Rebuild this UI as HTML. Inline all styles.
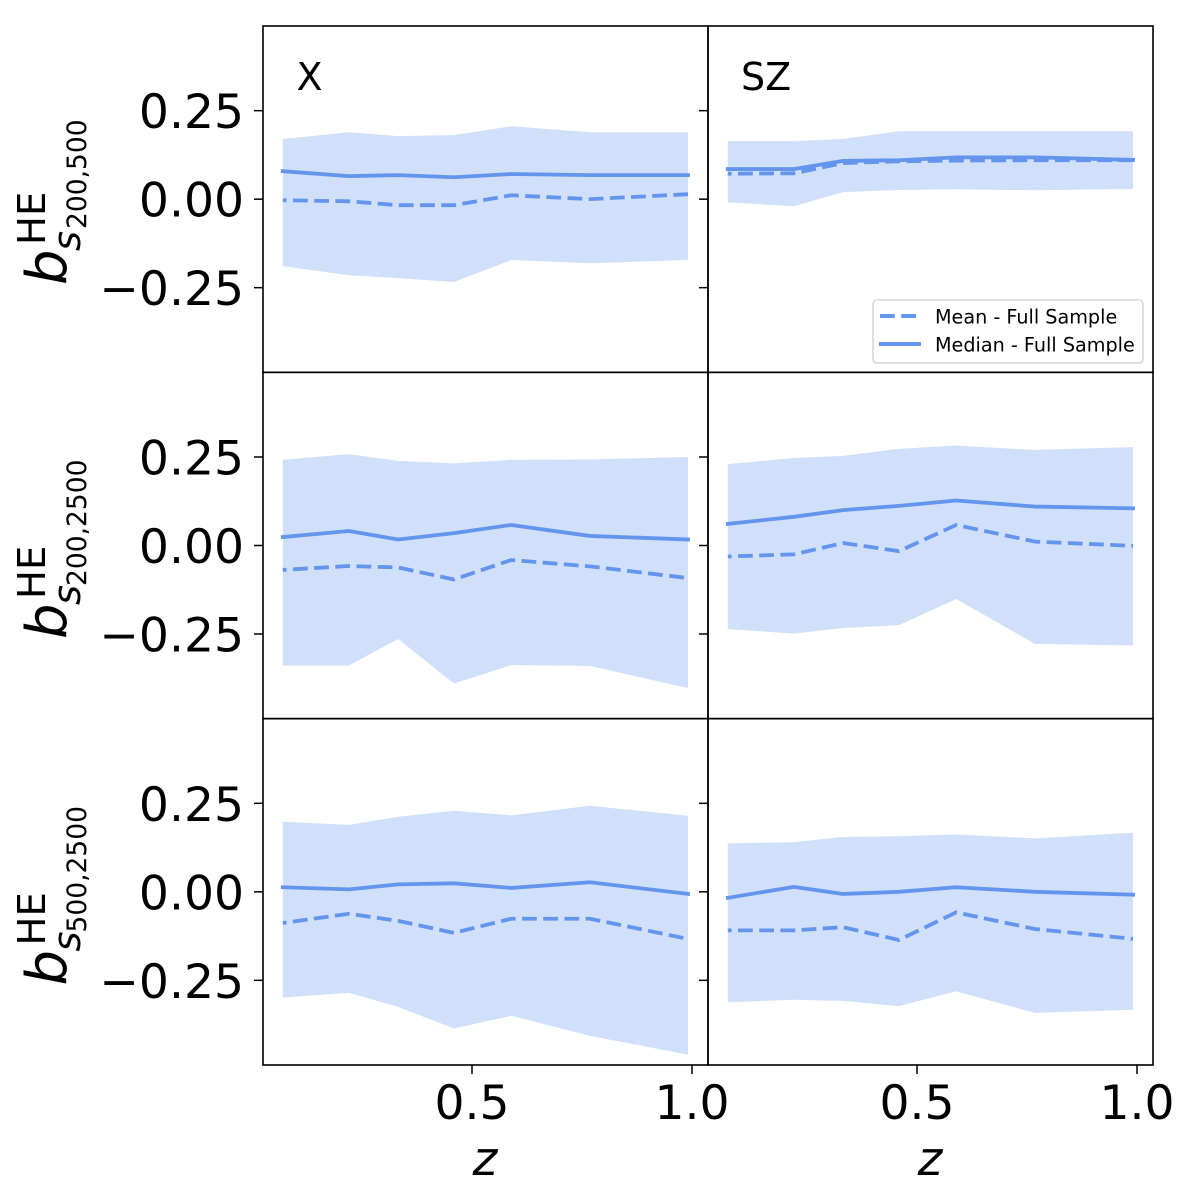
<!DOCTYPE html>
<html lang="en">
<head>
<meta charset="utf-8">
<title>Hydrostatic bias vs redshift</title>
<style>
html,body{margin:0;padding:0;background:#fff;}
svg{display:block;}
text{font-family:"DejaVu Sans",sans-serif;fill:#000;}
.it{font-style:italic;}
</style>
</head>
<body>
<svg id="chart" xmlns="http://www.w3.org/2000/svg" width="1200" height="1195" viewBox="0 0 1200 1195">
  <rect x="0" y="0" width="1200" height="1195" fill="#fff"/>
  <g id="panels"></g>

  <g>
    <text class="it" font-size="56" transform="translate(66,285) rotate(-90)">b</text>
    <text font-size="38.5" transform="translate(45,245) rotate(-90)">HE</text>
    <text class="it" font-size="38.5" transform="translate(80,251) rotate(-90)">s</text>
    <text font-size="26.5" transform="translate(86,229) rotate(-90)">200,500</text>
  </g>
  <g>
    <text class="it" font-size="56" transform="translate(66,639) rotate(-90)">b</text>
    <text font-size="38.5" transform="translate(45,599) rotate(-90)">HE</text>
    <text class="it" font-size="38.5" transform="translate(80,605) rotate(-90)">s</text>
    <text font-size="26.5" transform="translate(86,586) rotate(-90)">200,2500</text>
  </g>
  <g>
    <text class="it" font-size="56" transform="translate(66,985.5) rotate(-90)">b</text>
    <text font-size="38.5" transform="translate(45,945.5) rotate(-90)">HE</text>
    <text class="it" font-size="38.5" transform="translate(80,951.5) rotate(-90)">s</text>
    <text font-size="26.5" transform="translate(86,932.5) rotate(-90)">500,2500</text>
  </g>

  <text class="it" font-size="47" x="485" y="1175" text-anchor="middle">z</text>
  <text class="it" font-size="47" x="930" y="1175" text-anchor="middle">z</text>
  <text font-size="38" x="296.5" y="90">X</text>
  <text font-size="38" x="741" y="90">SZ</text>

  <g>
    <rect x="873" y="300" width="270" height="63" rx="4" ry="4" fill="#fff" fill-opacity="0.9" stroke="#d6d6d6" stroke-width="1.6"/>
    <line x1="880" y1="316" x2="921" y2="316" stroke="#6495ED" stroke-width="4" stroke-dasharray="14.8 6.4"/>
    <line x1="879" y1="344" x2="921" y2="344" stroke="#6495ED" stroke-width="4"/>
    <text font-size="19.2" x="935" y="323.5">Mean - Full Sample</text>
    <text font-size="19.2" x="935" y="351.5">Median - Full Sample</text>
  </g>
</svg>
<script>
const zBins = [0.07, 0.22, 0.332, 0.459, 0.589, 0.768, 0.991];
const yTickValues = [0.25, 0, -0.25];
const yTickLabels = ['0.25', '0.00', '\u22120.25'];
const xTickValues = [0.5, 1.0];
const xTickLabels = ['0.5', '1.0'];

const xS200500Upper = [0.170, 0.189, 0.178, 0.181, 0.206, 0.189, 0.189];
const xS200500Lower = [-0.189, -0.215, -0.223, -0.234, -0.172, -0.181, -0.172];
const xS200500Median = [0.079, 0.065, 0.068, 0.062, 0.071, 0.068, 0.068];
const xS200500Mean = [-0.003, -0.006, -0.017, -0.017, 0.011, 0.000, 0.014];

const szS200500Upper = [0.164, 0.164, 0.170, 0.192, 0.192, 0.192, 0.192];
const szS200500Lower = [-0.009, -0.020, 0.020, 0.026, 0.028, 0.025, 0.029];
const szS200500Median = [0.085, 0.085, 0.108, 0.110, 0.118, 0.118, 0.111];
const szS200500Mean = [0.072, 0.073, 0.102, 0.107, 0.109, 0.110, 0.110];

const xS2002500Upper = [0.242, 0.258, 0.239, 0.232, 0.242, 0.243, 0.250];
const xS2002500Lower = [-0.339, -0.339, -0.264, -0.390, -0.338, -0.340, -0.403];
const xS2002500Median = [0.024, 0.041, 0.017, 0.035, 0.058, 0.027, 0.017];
const xS2002500Mean = [-0.069, -0.058, -0.062, -0.096, -0.041, -0.059, -0.092];

const szS2002500Upper = [0.230, 0.247, 0.253, 0.273, 0.282, 0.270, 0.278];
const szS2002500Lower = [-0.236, -0.249, -0.233, -0.225, -0.151, -0.278, -0.282];
const szS2002500Median = [0.061, 0.081, 0.100, 0.112, 0.127, 0.110, 0.105];
const szS2002500Mean = [-0.031, -0.025, 0.007, -0.016, 0.058, 0.011, -0.001];

const xS5002500Upper = [0.198, 0.189, 0.212, 0.229, 0.216, 0.243, 0.215];
const xS5002500Lower = [-0.299, -0.285, -0.325, -0.386, -0.350, -0.407, -0.460];
const xS5002500Median = [0.013, 0.007, 0.021, 0.024, 0.011, 0.027, -0.006];
const xS5002500Mean = [-0.088, -0.062, -0.082, -0.116, -0.076, -0.076, -0.133];

const szS5002500Upper = [0.137, 0.140, 0.155, 0.157, 0.162, 0.151, 0.167];
const szS5002500Lower = [-0.312, -0.305, -0.308, -0.323, -0.281, -0.342, -0.333];
const szS5002500Median = [-0.017, 0.014, -0.006, 0.000, 0.013, 0.000, -0.008];
const szS5002500Mean = [-0.109, -0.109, -0.100, -0.136, -0.058, -0.105, -0.133];

const SVG_NS = 'http://www.w3.org/2000/svg';
const host = document.getElementById('panels');
const COLOR = '#6495ED';

const PANEL_W = 445;
const PANEL_H = 346.33;
const LEFT = 263;
const TOP = 26;
const PX_PER_Z = 440;
const PX_PER_B = 354;

function xAxis(z, col) { return LEFT + col * PANEL_W - 11 + PX_PER_Z * z; }
function yAxis(v, row) { return TOP + row * PANEL_H + PANEL_H / 2 - PX_PER_B * v; }
function pts(arr, col, row) {
  return arr.map(function (v, i) { return xAxis(zBins[i], col).toFixed(2) + ',' + yAxis(v, row).toFixed(2); });
}
function mk(tag, parent) {
  const el = document.createElementNS(SVG_NS, tag);
  parent.appendChild(el);
  return el;
}

const panelDefs = [
  { col: 0, row: 0, key: 'x-s200-500', up: xS200500Upper, lo: xS200500Lower, med: xS200500Median, mean: xS200500Mean },
  { col: 1, row: 0, key: 'sz-s200-500', up: szS200500Upper, lo: szS200500Lower, med: szS200500Median, mean: szS200500Mean },
  { col: 0, row: 1, key: 'x-s200-2500', up: xS2002500Upper, lo: xS2002500Lower, med: xS2002500Median, mean: xS2002500Mean },
  { col: 1, row: 1, key: 'sz-s200-2500', up: szS2002500Upper, lo: szS2002500Lower, med: szS2002500Median, mean: szS2002500Mean },
  { col: 0, row: 2, key: 'x-s500-2500', up: xS5002500Upper, lo: xS5002500Lower, med: xS5002500Median, mean: xS5002500Mean },
  { col: 1, row: 2, key: 'sz-s500-2500', up: szS5002500Upper, lo: szS5002500Lower, med: szS5002500Median, mean: szS5002500Mean }
];

panelDefs.forEach(function (p) {
  const g = mk('g', host);
  
  

  const band = mk('polygon', g);
  band.setAttribute('points', pts(p.up, p.col, p.row).concat(pts(p.lo, p.col, p.row).reverse()).join(' '));
  band.setAttribute('fill', COLOR);
  band.setAttribute('fill-opacity', '0.3');
  
  

  const meanLine = mk('polyline', g);
  meanLine.setAttribute('points', pts(p.mean, p.col, p.row).join(' '));
  meanLine.setAttribute('fill', 'none');
  meanLine.setAttribute('stroke', COLOR);
  meanLine.setAttribute('stroke-width', '3.8');
  meanLine.setAttribute('stroke-dasharray', '14.8 6.4');
  meanLine.setAttribute('stroke-dashoffset', '11');
  
  

  const medLine = mk('polyline', g);
  medLine.setAttribute('points', pts(p.med, p.col, p.row).join(' '));
  medLine.setAttribute('fill', 'none');
  medLine.setAttribute('stroke', COLOR);
  medLine.setAttribute('stroke-width', '3.8');
  medLine.setAttribute('stroke-linecap', 'square');
  medLine.setAttribute('stroke-linejoin', 'round');
  
  

  const frameX = LEFT + p.col * PANEL_W;
  const frameY = TOP + p.row * PANEL_H;

  const frame = mk('rect', g);
  frame.setAttribute('x', frameX);
  frame.setAttribute('y', frameY);
  frame.setAttribute('width', PANEL_W);
  frame.setAttribute('height', PANEL_H);
  frame.setAttribute('fill', 'none');
  frame.setAttribute('stroke', '#000');
  frame.setAttribute('stroke-width', '1.6');
  
  

  yTickValues.forEach(function (v, i) {
    const y = yAxis(v, p.row);
    const tick = mk('line', g);
    tick.setAttribute('x1', frameX - 9);
    tick.setAttribute('x2', frameX);
    tick.setAttribute('y1', y);
    tick.setAttribute('y2', y);
    tick.setAttribute('stroke', '#000');
    tick.setAttribute('stroke-width', '1.5');
    
    
    if (p.col === 0) {
      const label = mk('text', g);
      label.setAttribute('x', 244);
      label.setAttribute('y', y + 17.5);
      label.setAttribute('text-anchor', 'end');
      label.setAttribute('font-size', '47.2');
      
      
      label.textContent = yTickLabels[i];
    }
  });

  if (p.row === 2) {
    xTickValues.forEach(function (z, i) {
      const x = xAxis(z, p.col);
      const tick = mk('line', g);
      tick.setAttribute('x1', x);
      tick.setAttribute('x2', x);
      tick.setAttribute('y1', frameY + PANEL_H);
      tick.setAttribute('y2', frameY + PANEL_H + 9);
      tick.setAttribute('stroke', '#000');
      tick.setAttribute('stroke-width', '1.5');
      
      
      const label = mk('text', g);
      label.setAttribute('x', x);
      label.setAttribute('y', 1119);
      label.setAttribute('text-anchor', 'middle');
      label.setAttribute('font-size', '47.2');
      
      
      label.textContent = xTickLabels[i];
    });
  }
});
</script>
</body>
</html>
